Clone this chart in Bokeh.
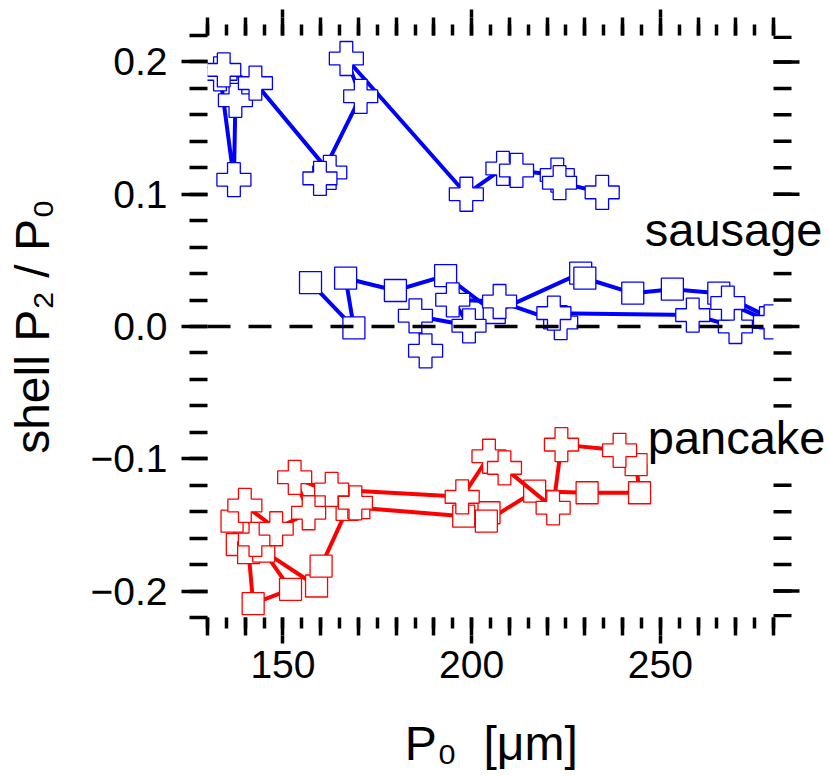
from bokeh.plotting import figure
from bokeh.models import LinearAxis, FixedTicker, CustomJSTickFormatter, Label, Range1d
from bokeh.embed import file_html
from bokeh.resources import INLINE

# ---- data ----
# sausage, upper branch (blue crosses)
sau_top_x = [137.4, 137.0, 133.3, 134.3, 142.7, 162.4, 159.8, 170.6, 166.8, 198.6, 208.3, 211.9, 222.7, 223.3, 234.6]
sau_top_y = [0.171, 0.111, 0.191, 0.194, 0.184, 0.1165, 0.112, 0.174, 0.2026, 0.100, 0.1195, 0.118, 0.1145, 0.1087, 0.1014]
# sausage, blue squares
sau_sq_x = [157.3, 168.8, 166.6, 179.8, 193.1, 206.0, 228.9, 230.0, 242.7, 253.2, 265.5, 279.2]
sau_sq_y = [0.0332, -0.001, 0.0365, 0.0272, 0.0385, 0.0106, 0.0403, 0.0365, 0.0252, 0.0282, 0.0252, 0.0066]
# sausage, blue crosses near zero
sau_cr_x = [187.8, 185.1, 199.3, 195.0, 207.4, 223.6, 221.8, 258.6, 269.9, 267.9, 279.2]
sau_cr_y = [-0.0184, 0.0081, 0.0005, 0.0202, 0.0189, 0.003, 0.0101, 0.0086, 0.0, 0.0177, 0.0035]
# pancake, red crosses
pan_cr_x = [142.7, 139.9, 148.2, 156.8, 153.1, 169.2, 162.9, 197.5, 204.6, 208.7, 221.6, 223.8, 239.2]
pan_cr_y = [-0.161, -0.1353, -0.1529, -0.1408, -0.114, -0.1333, -0.1232, -0.1288, -0.0981, -0.1069, -0.1371, -0.0893, -0.0936]
# pancake, red squares
pan_sq_x = [136.5, 137.9, 140.9, 142.1, 152.0, 144.9, 158.9, 160.1, 167.0, 170.1, 197.9, 204.6, 203.9, 216.7, 230.6, 244.5, 243.6]
pan_sq_y = [-0.1472, -0.1648, -0.171, -0.2095, -0.1987, -0.1698, -0.1962, -0.1811, -0.1383, -0.137, -0.1434, -0.1408, -0.1472, -0.1245, -0.1257, -0.1257, -0.1044]

x_label_ticks = [150, 200, 250]
x_ticks_10 = list(range(130, 281, 10))
x_ticks_5 = list(range(130, 281, 5))
y_major = [-0.2, -0.1, 0.0, 0.1, 0.2]
y_minor = [round(0.02 * k, 2) for k in range(-11, 12)]

X0, X1 = 130, 280
Y0, Y1 = -0.22, 0.22

BLUE = "#0000ff"
RED = "#ff0000"
FONT = "Liberation Sans"

W, H = 828, 777
LEFT, TOP, BOTTOM = 207, 35, 160
PLOT_W = 773 - LEFT                      # width of the data box in px
PX_PER_X = PLOT_W / (X1 - X0)
PLOT_H = H - TOP - BOTTOM
PX_PER_Y = PLOT_H / (Y1 - Y0)
X_END = X0 + (W - LEFT) / PX_PER_X       # frame extends to the right edge (room for labels)

p = figure(width=W, height=H, output_backend="svg", toolbar_location=None,
           x_range=Range1d(X0 - 1e-6, X_END), y_range=Range1d(Y0 - 1e-9, Y1 + 1e-9),
           x_axis_location=None, y_axis_location=None,
           min_border_left=LEFT, min_border_right=0, min_border_top=TOP, min_border_bottom=BOTTOM)
p.outline_line_color = None
p.background_fill_color = "white"
p.border_fill_color = "white"
p.grid.visible = False

blank = CustomJSTickFormatter(code="return ''")


def style_axis(ax, out, minor_out, labels=False):
    ax.axis_line_color = None
    ax.major_tick_out = out
    ax.major_tick_in = 0
    ax.minor_tick_out = minor_out
    ax.minor_tick_in = 0
    ax.major_tick_line_width = 3.5
    ax.minor_tick_line_width = 3.5
    ax.major_tick_line_color = "black"
    ax.minor_tick_line_color = "black"
    if not labels:
        ax.formatter = blank
        ax.major_label_text_font_size = "0px"
        ax.major_label_standoff = 0
    else:
        ax.major_label_text_font = FONT
        ax.major_label_text_font_size = "39px"
        ax.major_label_text_color = "black"
        ax.axis_label_text_font = FONT
        ax.axis_label_text_font_size = "48px"
        ax.axis_label_text_font_style = "normal"
        ax.axis_label_text_color = "black"
    return ax


# bottom: inner (10s and 5s), outer (50s + labels)
b_in = style_axis(LinearAxis(ticker=FixedTicker(ticks=x_ticks_10, minor_ticks=x_ticks_5)), 18, 11)
b_out = style_axis(LinearAxis(ticker=FixedTicker(ticks=x_label_ticks, minor_ticks=[])), 8, 0, labels=True)
b_out.formatter = CustomJSTickFormatter(code="return tick.toFixed(0)")
b_out.major_label_standoff = 7
# trailing no-break spaces keep the title centred under the data box, not the wider frame
b_out.axis_label = "P\u2080\u00a0\u00a0[\u03bcm]" + "\u00a0" * 4
b_out.axis_label_standoff = 36
p.add_layout(b_in, "below")
p.add_layout(b_out, "below")

# top: same ticks, no labels
t_in = style_axis(LinearAxis(ticker=FixedTicker(ticks=x_ticks_10, minor_ticks=x_ticks_5)), 18, 11)
t_out = style_axis(LinearAxis(ticker=FixedTicker(ticks=x_label_ticks, minor_ticks=[])), 8, 0)
p.add_layout(t_in, "above")
p.add_layout(t_out, "above")

# left with labels
l_ax = style_axis(LinearAxis(ticker=FixedTicker(ticks=y_major, minor_ticks=y_minor)), 26, 18, labels=True)
l_ax.formatter = CustomJSTickFormatter(code="return tick.toFixed(1).replace('-', '\u2212')")
l_ax.major_label_standoff = 14
l_ax.axis_label = "shell P\u2082 / P\u2080"
l_ax.axis_label_standoff = 29
p.add_layout(l_ax, "left")


def series(xs, ys, color, marker, size):
    p.line(xs, ys, line_color=color, line_width=4)
    p.scatter(xs, ys, marker=marker, size=size, fill_color="white",
              line_color=color, line_width=1.3)


series(sau_sq_x, sau_sq_y, BLUE, "square", 22)
series(sau_cr_x, sau_cr_y, BLUE, "plus", 34)
series(sau_top_x, sau_top_y, BLUE, "plus", 34)
series(pan_sq_x, pan_sq_y, RED, "square", 22)
series(pan_cr_x, pan_cr_y, RED, "plus", 34)

# everything beyond the right edge of the data box is masked (the box ends at X1)
p.quad(left=[X1], right=[X_END], bottom=[Y0 - 1], top=[Y1 + 1],
       fill_color="white", line_color=None)

# right-hand ticks (outward, like the other three sides)
half = 1.75 / PX_PER_Y
ry_major = y_major
ry_minor = [min(max(v, Y0 + half), Y1 - half) for v in y_minor]
p.segment(x0=[X1] * len(ry_minor), y0=ry_minor,
          x1=[X1 + 18 / PX_PER_X] * len(ry_minor), y1=ry_minor,
          line_color="black", line_width=3.5, line_cap="butt")
p.segment(x0=[X1] * len(ry_major), y0=ry_major,
          x1=[X1 + 26 / PX_PER_X] * len(ry_major), y1=ry_major,
          line_color="black", line_width=3.5, line_cap="butt")

# dashed zero line across the data box
p.segment(x0=[X0], y0=[0.0], x1=[X1], y1=[0.0], line_color="black",
          line_width=3.5, line_dash="23 18", line_cap="butt")

p.add_layout(Label(x=X0 + (822 - LEFT) / PX_PER_X, y=0.0730, text="sausage", text_align="right",
                   text_baseline="alphabetic", text_font=FONT, text_font_size="47px",
                   text_color="black", background_fill_color="white"))
p.add_layout(Label(x=X0 + (825 - LEFT) / PX_PER_X, y=-0.0840, text="pancake", text_align="right",
                   text_baseline="alphabetic", text_font=FONT, text_font_size="47px",
                   text_color="black", background_fill_color="white"))

open("out.html", "w").write(file_html(p, INLINE))
